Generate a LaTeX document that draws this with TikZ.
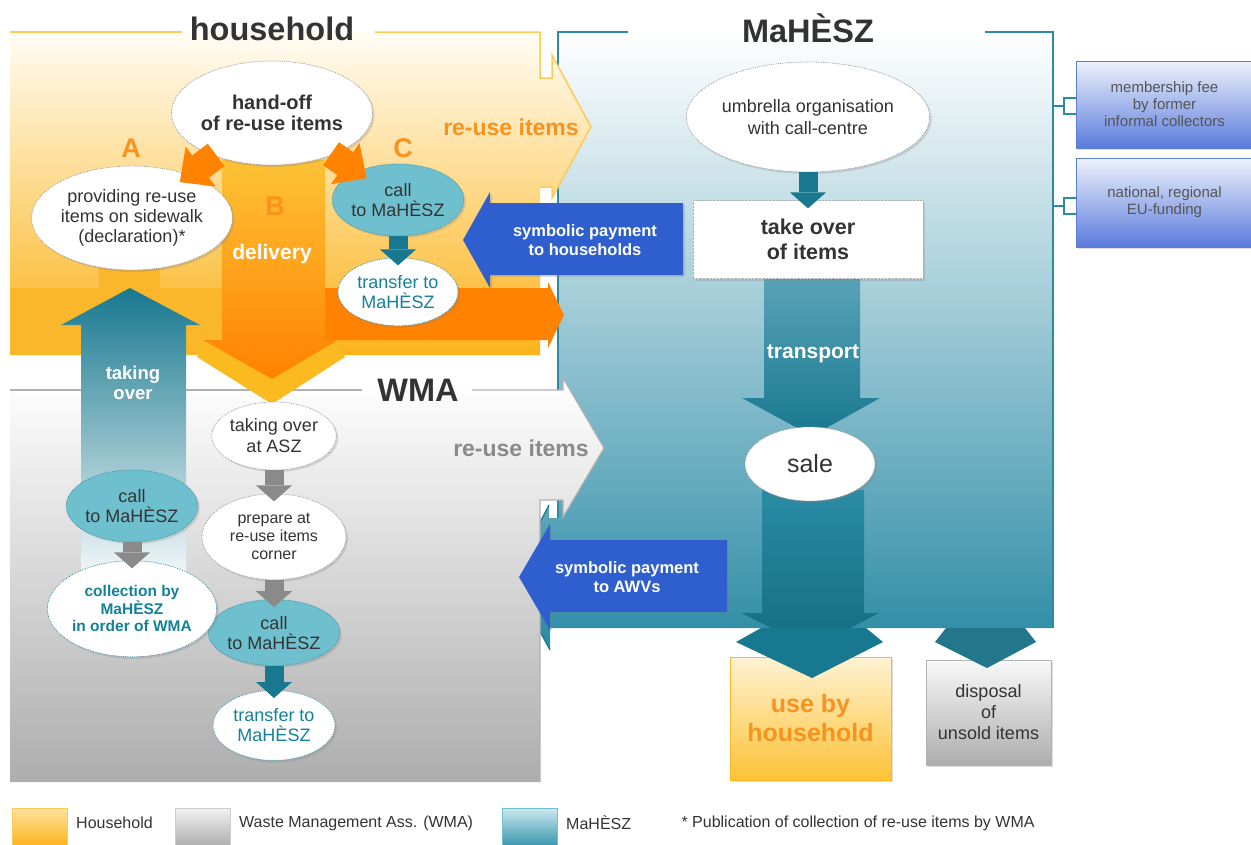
\documentclass[tikz,border=0pt]{standalone}
\usepackage{fontspec}
\setmainfont{Liberation Sans}
\usepackage{tikz}
\usetikzlibrary{positioning, shapes.geometric, arrows.meta, shadows}

\pgfdeclarelayer{back}
\pgfsetlayers{back,main}

\definecolor{hhTop}{HTML}{FFFDF5}
\definecolor{hhMid}{HTML}{FDE3A0}
\definecolor{hhBot}{HTML}{FBB31A}
\definecolor{hhBand}{HTML}{FBB72C}
\definecolor{hhLine}{HTML}{FCCB57}
\definecolor{yelA}{HTML}{FBBA1F}
\definecolor{yelB}{HTML}{FDC236}
\definecolor{orangeA}{HTML}{FF8200}
\definecolor{orangeT}{HTML}{F7931E}
\definecolor{tealD}{HTML}{17788F}
\definecolor{tealM}{HTML}{6AAFC0}
\definecolor{tealS}{HTML}{5AA3B7}
\definecolor{tealL}{HTML}{6FC0CF}
\definecolor{tealB}{HTML}{2B8BA5}
\definecolor{tealT}{HTML}{13819B}
\definecolor{blueP}{HTML}{2F5FCF}
\definecolor{blueTop}{HTML}{EEF2FC}
\definecolor{blueL}{HTML}{5A7BDC}
\definecolor{grayA}{HTML}{8A8A8A}
\definecolor{grayB}{HTML}{ADADAD}
\definecolor{txt}{HTML}{333333}
\definecolor{txtL}{HTML}{555555}

\newcommand\fsize[2]{\fontsize{#1}{#2}\selectfont}

\tikzset{
  wh/.style 2 args={minimum width=#1pt, minimum height=#2pt},
  shadowed/.style={drop shadow={shadow xshift=2pt, shadow yshift=-2pt, opacity=0.25}},
  oval/.style={ellipse, draw=gray!75, line width=0.8pt, densely dotted, fill=white, inner sep=0pt,
    align=center, text=txt, font=\fsize{18}{20}, shadowed},
  tealoval/.style={oval, fill=tealL, draw=tealD!80},
  tealtext/.style={oval, draw=tealD!80, text=tealT},
  title/.style={font=\fsize{32.5}{34}\bfseries, text=txt, anchor=base},
  letter/.style={font=\fsize{27}{28}\bfseries, text=orangeT},
  onarrow/.style={font=\fsize{21}{24}\bfseries, text=white, align=center},
  paytext/.style={font=\fsize{16.5}{19}\bfseries, text=white, align=center},
  box/.style={rectangle, inner sep=0pt, align=center, shadowed},
  legbox/.style={rectangle, inner sep=0pt, wh={55}{38}},
  legtext/.style={font=\fsize{16}{18}, text=txt, anchor=west},
  blk/.style={line width=19pt, -{Triangle[length=16pt, width=36pt, line width=0pt]}, shorten >=-8pt},
  tealblk/.style={blk, tealD},
  grayblk/.style={blk, grayA},
  orangeblk/.style={line width=28pt, orangeA, -{Triangle[length=26pt, width=50pt, line width=0pt]},
    shorten <=-2pt, shorten >=-12pt},
}

\begin{document}
\begin{tikzpicture}[x=1pt, y=-1pt]
\useasboundingbox (0,0) rectangle (1251,844);

\begin{pgfonlayer}{back}
% MaHESZ area
\shade[top color=white, middle color=tealM!45, bottom color=tealB]
  (558,32) -- (1053,32) -- (1053,628) -- (550,628) -- (550,650) -- (511,578)
  -- (549,505) -- (549,518) -- (558,518) -- cycle;
\draw[tealB, line width=1.5] (628,32) -- (558,32) -- (558,518);
\draw[tealB, line width=1.5] (985,32) -- (1053,32) -- (1053,628);
\draw[tealD, line width=1.2] (549,505) -- (511,578) -- (550,650);

% household area
\shade[top color=hhTop, middle color=hhMid, bottom color=hhBot]
  (10,32) -- (540,32) -- (540,78) -- (552,78) -- (552,55) -- (591,127) -- (552,198)
  -- (552,187) -- (540,187) -- (540,355) -- (10,355) -- cycle;
\fill[hhBand] (10,288) rectangle (325,355);
\fill[hhBand] (99,255) rectangle (160,288);
\draw[hhLine, line width=1.5] (182,32) -- (10,32);
\draw[hhLine, line width=1.5] (375,32) -- (540,32) -- (540,78) -- (552,78) -- (552,55)
  -- (591,127) -- (552,198) -- (552,187) -- (540,187);

% WMA area
\shade[top color=white, bottom color=grayB]
  (10,390) -- (563,390) -- (563,378) -- (604,448) -- (563,517) -- (563,500)
  -- (540,500) -- (540,782) -- (10,782) -- cycle;
\draw[gray!60, line width=1.2] (10,390) -- (362,390);
\draw[gray!60, line width=1.2] (472,390) -- (563,390) -- (563,378) -- (604,448)
  -- (563,517) -- (563,500) -- (540,500) -- (540,782);

% big arrows
\shade[top color=tealD, middle color=tealM, bottom color=white]
  (81,592) -- (81,325) -- (61,325) -- (130,288) -- (200,325) -- (186,325) -- (186,592) -- cycle;
\fill[orangeA] (325,288) -- (548,288) -- (548,282) -- (564,315) -- (548,348) -- (548,340) -- (325,340) -- cycle;
\fill[yelA] (203,343) -- (337,343) -- (345,357) -- (272,404) -- (197,357) -- cycle;
\shade[top color=yelB, bottom color=orangeA]
  (222,160) -- (325,160) -- (325,340) -- (338,340) -- (272,379) -- (203,340) -- (222,340) -- cycle;
\fill[blueP, shadowed] (683,203) -- (490,203) -- (490,192) -- (463,240) -- (490,288) -- (490,275) -- (683,275) -- cycle;
\fill[blueP, shadowed] (727,540) -- (550,540) -- (550,524) -- (519,577) -- (550,630) -- (550,612) -- (727,612) -- cycle;
\shade[top color=tealS, bottom color=tealD]
  (764,277) -- (860,277) -- (860,398) -- (880,398) -- (812,436) -- (742,398) -- (764,398) -- cycle;
\shade[top color=tealB, bottom color=tealD!90!black]
  (762,490) -- (864,490) -- (864,613) -- (879,613) -- (812,648) -- (741,613) -- (762,613) -- cycle;

% brackets
\draw[tealB, line width=1.5] (1053,106) -- (1064,106) (1076,98) -| (1064,114) -- (1076,114);
\draw[tealB, line width=1.5] (1053,206) -- (1064,206) (1076,198) -| (1064,214) -- (1076,214);
\end{pgfonlayer}

% titles and labels
\node[title] (hhTitle) at (272,40) {household};
\node[title] (mahTitle) at (808,42) {MaHÈSZ};
\node[title] (wmaTitle) at (418,401) {WMA};
\node[letter] (labA) at (131,148) {A};
\node[letter] (labB) at (275,206) {B};
\node[letter] (labC) at (403,148) {C};
\node[font=\fsize{23}{25}\bfseries, text=orangeT] (reuseHH) at (511,127) {re-use items};
\node[font=\fsize{23}{25}\bfseries, text=grayA] (reuseWMA) at (521,448) {re-use items};
\node[onarrow] (delivTxt) at (272,254) {delivery};
\node[onarrow] (transTxt) at (813,354) {transport};
\node[onarrow, font=\fsize{18.5}{20}\bfseries] (takingTxt) at (133,383) {taking\\over};
\node[paytext] (payHH) at (585,240) {symbolic payment\\to households};
\node[paytext] (payAWV) at (627,577) {symbolic payment\\to AWVs};

% household
\node[oval, wh={188}{104}, font=\fsize{20}{21}\bfseries] (handoff) at (272,113) {hand-off\\of re-use items};
\node[oval, wh={178}{104}] (provide) at (132,218) {providing re-use\\items on sidewalk\\(declaration)*};
\node[tealoval, wh={120}{72}] (callC) at (398,200) {call\\to MaHÈSZ};
\node[tealtext, wh={120}{68}, below=21pt of callC] (transC) {transfer to\\MaHÈSZ};

% WMA
\node[oval, wh={122}{68}, font=\fsize{18}{21}] (asz) at (274,436) {taking over\\at ASZ};
\node[oval, wh={144}{86}, font=\fsize{16}{18}, below=23pt of asz] (prep) {prepare at\\re-use items\\corner};
\node[tealoval, wh={122}{66}, below=19pt of prep] (callM) {call\\to MaHÈSZ};
\node[tealtext, wh={122}{70}, below=24pt of callM] (transM) {transfer to\\MaHÈSZ};
\node[tealoval, wh={122}{72}] (callL) at (132,506) {call\\to MaHÈSZ};
\node[tealtext, wh={158}{96}, font=\fsize{15.5}{17.5}\bfseries, below=18pt of callL] (coll) {collection by\\MaHÈSZ\\in order of WMA};

% MaHESZ
\node[oval, wh={198}{110}, font=\fsize{18}{22}] (umbrella) at (808,117) {umbrella organisation\\with call-centre};
\node[box, wh={230}{78}, fill=white, draw=gray!60, densely dotted, font=\fsize{21.5}{25}\bfseries, text=txt,
  below=28pt of umbrella] (takeover) {take over\\of items};
\node[oval, wh={130}{74}, font=\fsize{25}{28}] (sale) at (810,464) {sale};
\node[box, wh={161}{123}, top color=hhTop!60!hhMid, bottom color=yelB, draw=yelA,
  font=\fsize{25}{29}\bfseries, text=orangeT] (usehh) at (810.5,718.5) {use by\\household};
\node[box, wh={125}{105}, top color=gray!5, bottom color=grayB, draw=gray!60,
  font=\fsize{18}{21}, text=txt] (disposal) at (988.5,712.5) {disposal\\of\\unsold items};
\fill[tealD] (761,628) -- (866,628) -- (883,642) -- (812,678) -- (736,642) -- cycle;
\fill[tealB!85!black] (946,628) -- (1025,628) -- (1036,642) -- (987,668) -- (935,642) -- cycle;

% funding
\node[box, wh={177}{87}, top color=blueTop, bottom color=blueL, draw=blueP!80,
  font=\fsize{15}{17}, text=txtL] (fee) at (1164.5,104.5) {membership fee\\by former\\informal collectors};
\node[box, wh={177}{89}, top color=blueTop, bottom color=blueL, draw=blueP!80,
  font=\fsize{15}{17}, text=txtL] (fund) at (1164.5,202.5) {national, regional\\EU-funding};

% connectors
\draw[orangeblk] (handoff) -- (provide);
\draw[orangeblk] (handoff) -- (callC);
\draw[tealblk] (callC) -- (transC);
\draw[tealblk] (umbrella) -- (takeover);
\draw[grayblk] (asz) -- (prep);
\draw[grayblk] (prep) -- (callM);
\draw[tealblk] (callM) -- (transM);
\draw[grayblk] (callL) -- (coll);

% legend
\node[legbox, top color=hhMid, bottom color=hhBot, draw=hhLine] (legHH) at (40,827) {};
\node[legtext, right=5pt of legHH, yshift=4pt] (legHHtxt) {Household};
\node[legbox, top color=gray!10, bottom color=grayB, draw=gray!40] (legWMA) at (203,827) {};
\node[legtext, right=5pt of legWMA, yshift=4pt] (legWMAtxt) {Waste Management Ass. (WMA)};
\node[legbox, top color=tealL!35, bottom color=tealB!80!tealL, draw=tealL] (legMAH) at (530,827) {};
\node[legtext, right=5pt of legMAH, yshift=4pt] (legMAHtxt) {MaHÈSZ};
\node[legtext] (legNote) at (678,823) {* Publication of collection of re-use items by WMA};
\end{tikzpicture}
\end{document}
